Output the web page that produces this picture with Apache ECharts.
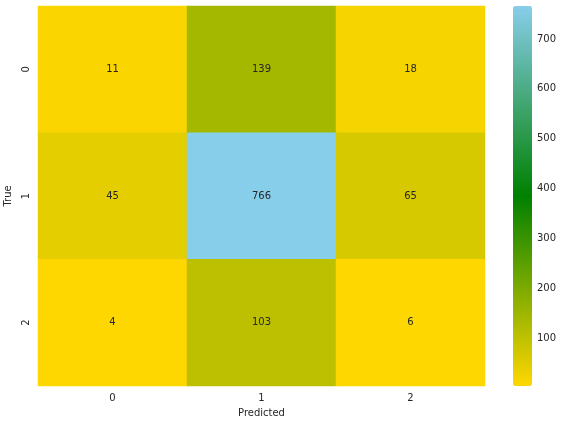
<!DOCTYPE html>
<html>
<head>
<meta charset="utf-8">
<script src="https://cdn.jsdelivr.net/npm/echarts@6/dist/echarts.min.js"></script>
<style>
  html, body { margin: 0; padding: 0; background: #fff; }
  #chart { width: 564px; height: 425px; }
</style>
</head>
<body>
<div id="chart"></div>
<script>
// confusion matrix
const predicted = ['0', '1', '2'];
const actual = ['0', '1', '2'];
const counts = [
  [11, 139, 18],
  [45, 766, 65],
  [4, 103, 6]
];
const barTicks = [100, 200, 300, 400, 500, 600, 700];

const cells = [];
counts.forEach(function (row, i) {
  row.forEach(function (v, j) {
    cells.push([j, i, v]);
  });
});
const vmin = Math.min.apply(null, cells.map(c => c[2]));
const vmax = Math.max.apply(null, cells.map(c => c[2]));

const txt = '#262626';
const font = 'DejaVu Sans';

let chart = echarts.init(document.getElementById('chart'));
chart.setOption({
  animation: false,
  textStyle: { fontFamily: font },
  grid: [
    { left: 38, right: 79, top: 6, bottom: 39, outerBoundsMode: 'none', containLabel: false },
    // colorbar scale, 0 sits just under the bar bottom
    { left: 513, width: 19, top: 6, bottom: 37, outerBoundsMode: 'none', containLabel: false }
  ],
  xAxis: [{
    type: 'category',
    data: predicted,
    gridIndex: 0,
    name: 'Predicted',
    nameLocation: 'middle',
    nameGap: 22,
    nameTextStyle: { color: txt, fontSize: 10, fontFamily: font },
    axisLine: { show: false },
    axisTick: { alignWithLabel: true, length: 3.5, lineStyle: { color: txt } },
    axisLabel: { color: txt, fontSize: 10, margin: 7 },
    splitLine: { show: false }
  }, {
    type: 'value',
    gridIndex: 1,
    show: false
  }],
  yAxis: [{
    type: 'category',
    data: actual,
    inverse: true,
    gridIndex: 0,
    name: 'True',
    nameLocation: 'middle',
    nameGap: 22,
    nameRotate: 90,
    nameTextStyle: { color: txt, fontSize: 10, fontFamily: font },
    axisLine: { show: false },
    axisTick: { alignWithLabel: true, length: 3.5, lineStyle: { color: txt } },
    axisLabel: { color: txt, fontSize: 10, rotate: 90, margin: 7 },
    splitLine: { show: false }
  }, {
    type: 'value',
    gridIndex: 1,
    position: 'right',
    min: 0,
    max: vmax,
    interval: 100,
    axisLine: { show: false },
    axisTick: { length: 3.5, lineStyle: { color: txt } },
    splitLine: { show: false },
    axisLabel: {
      color: txt, fontSize: 10, margin: 5,
      showMinLabel: false, showMaxLabel: false,
      formatter: function (v) { return barTicks.indexOf(v) >= 0 ? String(v) : ''; }
    }
  }],
  visualMap: {
    type: 'continuous',
    min: vmin,
    max: vmax,
    seriesIndex: 0,
    calculable: false,
    orient: 'vertical',
    left: 513,
    top: 6,
    padding: 0,
    itemWidth: 19,
    itemHeight: 380,
    borderRadius: 0,
    text: null,
    inRange: { color: ['#FFD700', '#008000', '#87CEEB'] }
  },
  series: [{
    type: 'heatmap',
    xAxisIndex: 0,
    yAxisIndex: 0,
    data: cells,
    label: { show: true, color: txt, fontSize: 10, fontFamily: font },
    itemStyle: { borderWidth: 0 },
    emphasis: { disabled: true }
  }]
});
</script>
</body>
</html>
